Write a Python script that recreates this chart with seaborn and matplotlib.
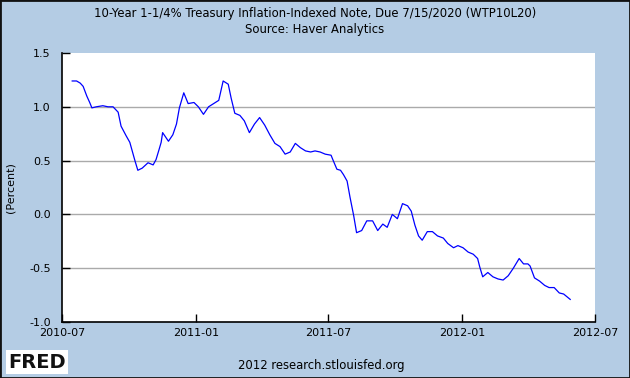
import pandas as pd
import matplotlib.pyplot as plt
import matplotlib.dates as mdates
from matplotlib.patches import Rectangle
import seaborn as sns

# values (weekly-ish vertices)
dates = ["2010-07-15", "2010-07-21", "2010-07-26", "2010-07-30", "2010-08-04", "2010-08-08",
         "2010-08-11", "2010-08-17", "2010-08-26", "2010-09-02", "2010-09-09", "2010-09-16",
         "2010-09-20", "2010-09-27", "2010-10-02", "2010-10-09", "2010-10-13", "2010-10-19",
         "2010-10-27", "2010-11-03", "2010-11-07", "2010-11-11", "2010-11-14", "2010-11-16",
         "2010-11-24", "2010-11-30", "2010-12-05", "2010-12-09", "2010-12-15", "2010-12-21",
         "2010-12-29", "2011-01-04", "2011-01-11", "2011-01-18", "2011-01-25", "2011-02-01",
         "2011-02-07", "2011-02-14", "2011-02-18", "2011-02-23", "2011-03-02", "2011-03-08",
         "2011-03-15", "2011-03-22", "2011-03-29", "2011-04-05", "2011-04-12", "2011-04-19",
         "2011-04-26", "2011-05-03", "2011-05-10", "2011-05-17", "2011-05-24", "2011-05-31",
         "2011-06-07", "2011-06-13", "2011-06-20", "2011-06-27", "2011-07-05", "2011-07-08",
         "2011-07-13", "2011-07-18", "2011-07-22", "2011-07-27", "2011-07-31", "2011-08-05",
         "2011-08-09", "2011-08-16", "2011-08-23", "2011-08-31", "2011-09-07", "2011-09-14",
         "2011-09-20", "2011-09-27", "2011-10-04", "2011-10-11", "2011-10-18", "2011-10-23",
         "2011-10-28", "2011-11-02", "2011-11-07", "2011-11-14", "2011-11-21", "2011-11-28",
         "2011-12-06", "2011-12-12", "2011-12-20", "2011-12-26", "2012-01-02", "2012-01-09",
         "2012-01-16", "2012-01-22", "2012-01-25", "2012-01-29", "2012-02-05", "2012-02-12",
         "2012-02-19", "2012-02-26", "2012-03-04", "2012-03-11", "2012-03-19", "2012-03-25",
         "2012-03-31", "2012-04-03", "2012-04-09", "2012-04-16", "2012-04-23", "2012-04-29",
         "2012-05-06", "2012-05-13", "2012-05-19", "2012-05-28"]
rates = [1.24, 1.24, 1.22, 1.19, 1.10, 1.04,
         0.99, 1.00, 1.01, 1.00, 1.00, 0.95,
         0.82, 0.73, 0.67, 0.50, 0.41, 0.43,
         0.48, 0.46, 0.51, 0.60, 0.67, 0.76,
         0.68, 0.74, 0.84, 0.99, 1.13, 1.03,
         1.04, 1.00, 0.93, 1.00, 1.03, 1.06,
         1.24, 1.21, 1.08, 0.94, 0.92, 0.87,
         0.76, 0.84, 0.90, 0.83, 0.74, 0.66,
         0.63, 0.56, 0.58, 0.66, 0.62, 0.59,
         0.58, 0.59, 0.58, 0.56, 0.55, 0.50,
         0.42, 0.41, 0.37, 0.31, 0.16, -0.01,
         -0.17, -0.15, -0.06, -0.06, -0.15, -0.09,
         -0.12, 0.00, -0.04, 0.10, 0.08, 0.03,
         -0.10, -0.20, -0.24, -0.16, -0.16, -0.20,
         -0.22, -0.27, -0.31, -0.29, -0.31, -0.35,
         -0.37, -0.41, -0.49, -0.58, -0.54, -0.58,
         -0.60, -0.61, -0.57, -0.50, -0.41, -0.46,
         -0.46, -0.48, -0.59, -0.62, -0.66, -0.68,
         -0.68, -0.73, -0.74, -0.79]

x_ticks = ["2010-07-01", "2011-01-01", "2011-07-01", "2012-01-01", "2012-07-01"]
y_ticks = [-1.0, -0.5, 0.0, 0.5, 1.0, 1.5]

df = pd.DataFrame({"date": pd.to_datetime(dates), "rate": rates})

bg = "#B4CCE4"
fig = plt.figure(figsize=(6.3, 3.78), dpi=100, facecolor=bg)
ax = fig.add_axes([62 / 630, 1 - 322 / 378, 533 / 630, 269 / 378])
ax.set_facecolor("white")

for y in y_ticks[1:-1]:
    ax.axhline(y, color="#AAAAAA", lw=1, zorder=1)

sns.lineplot(data=df, x="date", y="rate", color="#0000FF", lw=0.9, ax=ax, zorder=3)

ax.set_xlim(pd.Timestamp(x_ticks[0]), pd.Timestamp(x_ticks[-1]))
ax.set_ylim(-1.0, 1.5)
ax.set_xticks(pd.to_datetime(x_ticks))
ax.xaxis.set_major_formatter(mdates.DateFormatter("%Y-%m"))
ax.set_yticks(y_ticks)
ax.set_yticklabels([f"{v:.1f}" for v in y_ticks])
ax.tick_params(direction="in", length=6, width=1, color="black", labelsize=8, pad=4)
ax.tick_params(axis="y", pad=8)

for s in ["top", "right"]:
    ax.spines[s].set_visible(False)
for s in ["left", "bottom"]:
    ax.spines[s].set_color("black")
    ax.spines[s].set_linewidth(1.2)

ax.set_xlabel("")
ax.set_ylabel("(Percent)", fontsize=8, labelpad=10)

fig.text(0.5, 1 - 14 / 378, "10-Year 1-1/4% Treasury Inflation-Indexed Note, Due 7/15/2020 (WTP10L20)",
         ha="center", va="center", fontsize=8.4)
fig.text(0.5, 1 - 29 / 378, "Source: Haver Analytics", ha="center", va="center", fontsize=8.4)
fig.text(321 / 630, 1 - 366 / 378, "2012 research.stlouisfed.org", ha="center", va="center", fontsize=8.4)

# FRED logo
fig.text(8 / 630, 1 - 362 / 378, "FRED", ha="left", va="center", fontsize=14, fontweight="bold",
         color="#111111", family="DejaVu Sans",
         bbox=dict(boxstyle="square,pad=0.12", facecolor="white", edgecolor="none"))

fig.patches.append(Rectangle((0, 0), 1, 1, transform=fig.transFigure, fill=False,
                             edgecolor="#111111", lw=2))

fig.savefig("out.png", dpi=100, facecolor=bg)
